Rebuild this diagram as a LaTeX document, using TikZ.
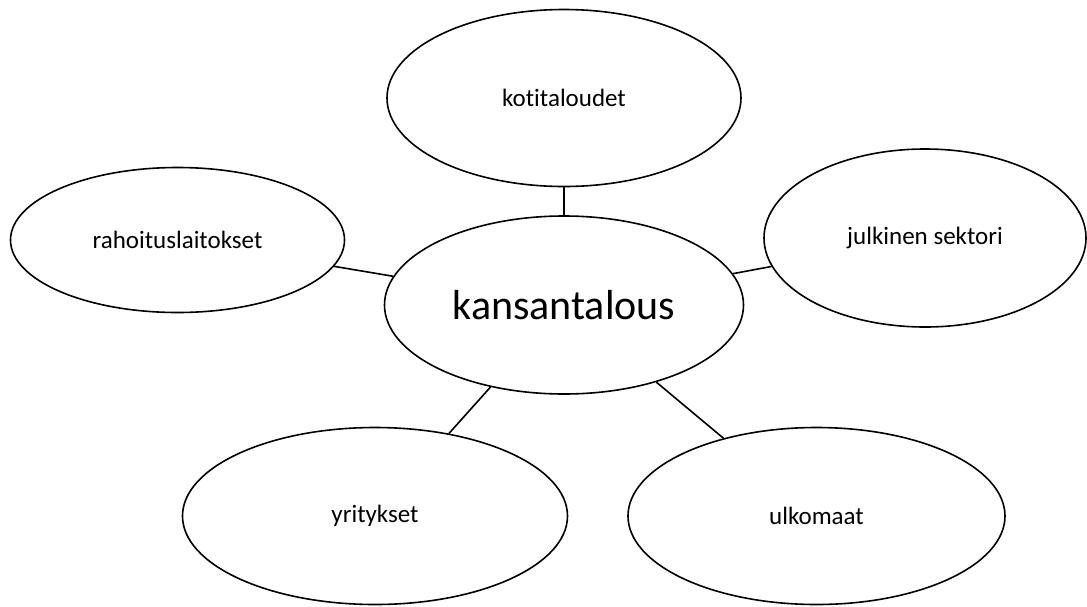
\documentclass[tikz,border=0pt]{standalone}
\usepackage{fontspec}
\setmainfont{Carlito}[Ligatures=NoCommon]
\usetikzlibrary{shapes.geometric}
\begin{document}
\begin{tikzpicture}[x=1pt,y=-1pt,
  bubble/.style={draw=black, line width=1.6pt, ellipse, inner sep=0pt, fill=white, font=\fontsize{25}{30}\selectfont},
  link/.style={draw=black, line width=1.6pt}]
\useasboundingbox (0,0) rectangle (1087,606);
\node[bubble, minimum width=359pt, minimum height=178pt, font=\fontsize{42}{50}\selectfont] (kans) at (564,305) {kansantalous};
\node[bubble, minimum width=354pt, minimum height=177pt] (koti) at (564,98) {kotitaloudet};
\node[bubble, minimum width=334pt, minimum height=145pt] (rah) at (177.5,240) {rahoituslaitokset};
\node[bubble, minimum width=322pt, minimum height=178pt] (julk) at (925,238) {julkinen sektori};
\node[bubble, minimum width=385pt, minimum height=177pt] (yrit) at (375,516) {yritykset};
\node[bubble, minimum width=377pt, minimum height=177pt] (ulko) at (816.5,516) {ulkomaat};
\draw[link] (koti) -- (kans);
\draw[link] (rah) -- (kans);
\draw[link] (julk) -- (kans);
\draw[link] (yrit) -- (kans);
\draw[link] (ulko) -- (kans);
\end{tikzpicture}
\end{document}
